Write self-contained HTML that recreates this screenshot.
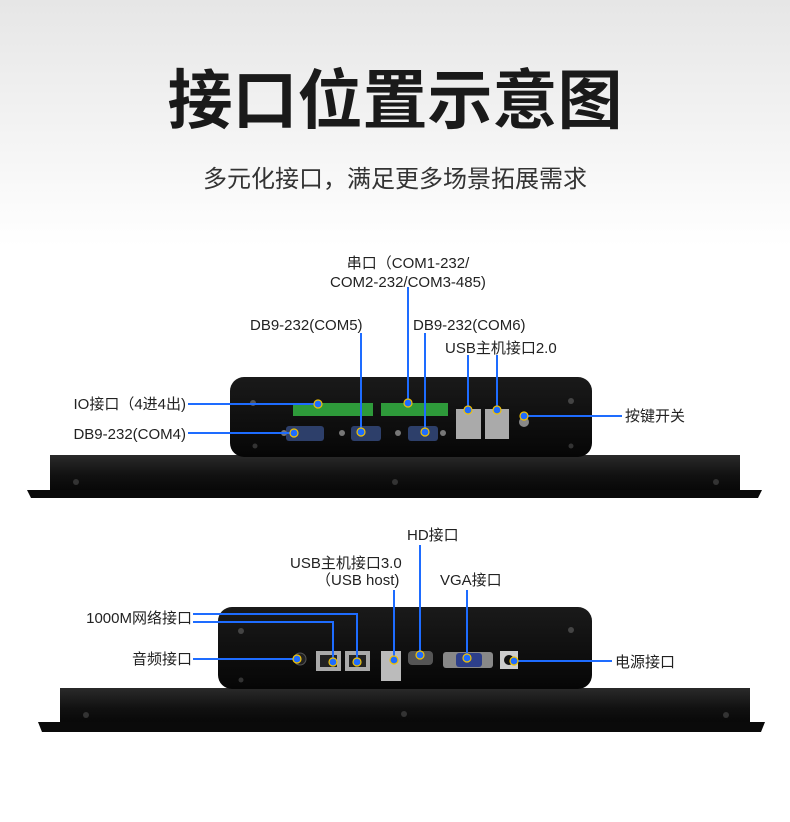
<!DOCTYPE html>
<html><head><meta charset="utf-8"><style>
body{margin:0;width:790px;height:822px;overflow:hidden;background:#fff;}
svg{display:block}
text{font-family:"Liberation Sans","Noto Sans CJK SC",sans-serif;fill:#222}
</style></head><body>
<svg width="790" height="822" viewBox="0 0 790 822" xmlns="http://www.w3.org/2000/svg">
<defs>
<linearGradient id="bg" x1="0" y1="0" x2="0" y2="1">
<stop offset="0" stop-color="#e6e6e6"/><stop offset="0.3" stop-color="#ffffff"/><stop offset="1" stop-color="#ffffff"/>
</linearGradient>
<linearGradient id="box" x1="0" y1="0" x2="0" y2="1">
<stop offset="0" stop-color="#1a1a1a"/><stop offset="1" stop-color="#060606"/>
</linearGradient>
<linearGradient id="bar" x1="0" y1="0" x2="0" y2="1">
<stop offset="0" stop-color="#2a2a2a"/><stop offset="0.5" stop-color="#111"/><stop offset="1" stop-color="#050505"/>
</linearGradient>
</defs>
<rect width="790" height="822" fill="url(#bg)"/>
<text x="395" y="123" text-anchor="middle" font-size="65" font-weight="bold" style="fill:#1a1a1a">接口位置示意图</text>
<text x="395" y="187" text-anchor="middle" font-size="24" style="fill:#333">多元化接口，满足更多场景拓展需求</text>

<!-- top device -->
<rect x="50" y="455" width="690" height="40" fill="url(#bar)"/>
<path d="M27 490 L762 490 L758 498 L31 498 Z" fill="#0a0a0a"/>
<rect x="230" y="377" width="362" height="80" rx="14" fill="url(#box)"/>
<circle cx="76" cy="482" r="3" fill="#333"/><circle cx="395" cy="482" r="3" fill="#333"/><circle cx="716" cy="482" r="3" fill="#333"/>
<circle cx="253" cy="403" r="3" fill="#555"/><circle cx="571" cy="401" r="3" fill="#444"/>
<circle cx="255" cy="446" r="2.5" fill="#333"/><circle cx="571" cy="446" r="2.5" fill="#333"/>
<rect x="293" y="403" width="80" height="13" fill="#2e9a3a"/>
<rect x="381" y="403" width="67" height="13" fill="#2e9a3a"/>
<rect x="286" y="426" width="38" height="15" rx="3" fill="#2d3f6a"/>
<rect x="351" y="426" width="30" height="15" rx="3" fill="#2d3f6a"/>
<rect x="408" y="426" width="30" height="15" rx="3" fill="#2d3f6a"/>
<rect x="456" y="409" width="25" height="30" fill="#aaa"/>
<rect x="485" y="409" width="24" height="30" fill="#aaa"/>
<circle cx="342" cy="433" r="3" fill="#777"/><circle cx="398" cy="433" r="3" fill="#777"/><circle cx="284" cy="433" r="3" fill="#777"/><circle cx="443" cy="433" r="3" fill="#777"/>
<circle cx="524" cy="422" r="5" fill="#888"/>

<!-- bottom device -->
<rect x="60" y="688" width="690" height="40" fill="url(#bar)"/>
<path d="M38 722 L765 722 L761 732 L42 732 Z" fill="#0a0a0a"/>
<rect x="218" y="607" width="374" height="82" rx="14" fill="url(#box)"/>
<circle cx="86" cy="715" r="3" fill="#333"/><circle cx="404" cy="714" r="3" fill="#333"/><circle cx="726" cy="715" r="3" fill="#333"/>
<circle cx="241" cy="631" r="3" fill="#444"/><circle cx="571" cy="630" r="3" fill="#444"/>
<circle cx="241" cy="680" r="2.5" fill="#333"/>
<circle cx="300" cy="659" r="6" fill="#222" stroke="#555"/>
<rect x="316" y="651" width="25" height="20" fill="#aaa"/><rect x="320" y="655" width="17" height="12" fill="#222"/>
<rect x="345" y="651" width="25" height="20" fill="#aaa"/><rect x="349" y="655" width="17" height="12" fill="#222"/>
<rect x="381" y="651" width="20" height="30" fill="#bbb"/>
<rect x="408" y="651" width="25" height="14" rx="4" fill="#555"/>
<rect x="443" y="652" width="50" height="16" rx="3" fill="#888"/><rect x="456" y="653" width="26" height="14" rx="3" fill="#2d3f8a"/>
<rect x="500" y="651" width="18" height="18" fill="#ccc"/><circle cx="509" cy="660" r="5" fill="#111"/>

<g stroke="#1e6cff" stroke-width="2" fill="none">
<path d="M188 404 H318"/>
<path d="M188 433 H294"/>
<path d="M361 333 V432"/>
<path d="M408 287 V403"/>
<path d="M425 333 V432"/>
<path d="M468 355 V410"/>
<path d="M497 355 V410"/>
<path d="M524 416 H622"/>
<path d="M193 614 H357 V662"/>
<path d="M193 622 H333 V662"/>
<path d="M193 659 H297"/>
<path d="M394 590 V660"/>
<path d="M420 545 V655"/>
<path d="M467 590 V658"/>
<path d="M514 661 H612"/>
</g>
<g fill="#1e6cff" stroke="#f2c200" stroke-width="1.2">
<circle cx="318" cy="404" r="4"/><circle cx="294" cy="433" r="4"/><circle cx="361" cy="432" r="4"/>
<circle cx="408" cy="403" r="4"/><circle cx="425" cy="432" r="4"/><circle cx="468" cy="410" r="4"/>
<circle cx="497" cy="410" r="4"/><circle cx="524" cy="416" r="4"/>
<circle cx="297" cy="659" r="4"/><circle cx="333" cy="662" r="4"/><circle cx="357" cy="662" r="4"/>
<circle cx="394" cy="660" r="4"/><circle cx="420" cy="655" r="4"/><circle cx="467" cy="658" r="4"/><circle cx="514" cy="661" r="4"/>
</g>

<g font-size="15">
<text x="408" y="268" text-anchor="middle">串口（COM1-232/</text>
<text x="408" y="287" text-anchor="middle">COM2-232/COM3-485)</text>
<text x="250" y="330">DB9-232(COM5)</text>
<text x="413" y="330">DB9-232(COM6)</text>
<text x="445" y="353">USB主机接口2.0</text>
<text x="186" y="409" text-anchor="end">IO接口（4进4出)</text>
<text x="186" y="439" text-anchor="end">DB9-232(COM4)</text>
<text x="625" y="421">按键开关</text>
<text x="407" y="540">HD接口</text>
<text x="290" y="568">USB主机接口3.0</text>
<text x="316" y="585">（USB host)</text>
<text x="440" y="585">VGA接口</text>
<text x="192" y="623" text-anchor="end">1000M网络接口</text>
<text x="192" y="664" text-anchor="end">音频接口</text>
<text x="615" y="667">电源接口</text>
</g>
</svg>
</body></html>
